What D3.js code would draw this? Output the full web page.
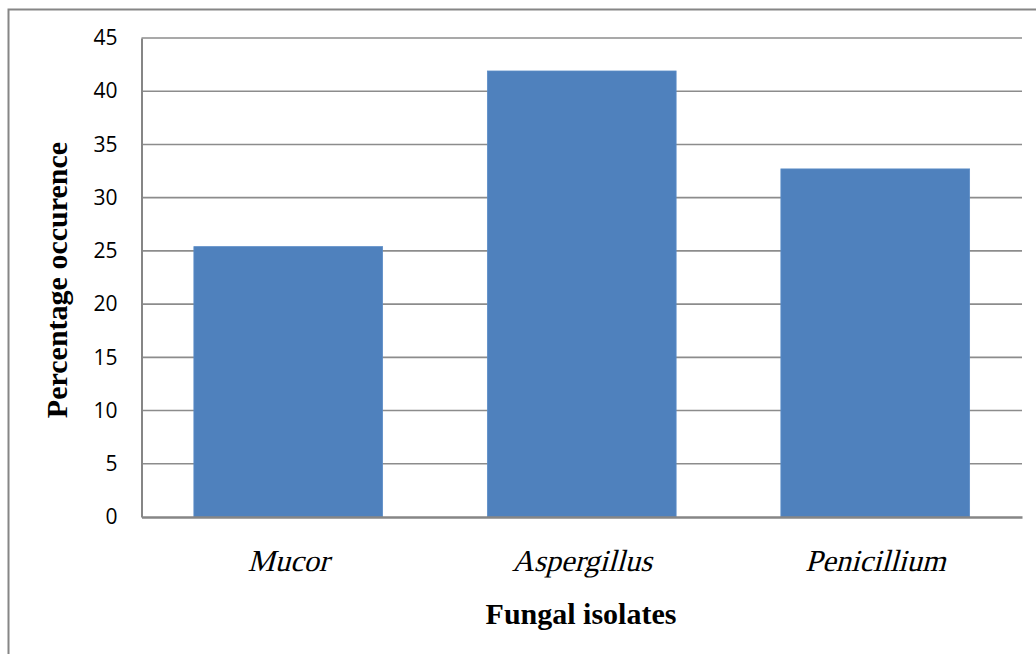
<!DOCTYPE html>
<html>
<head>
<meta charset="utf-8">
<script src="https://cdn.jsdelivr.net/npm/d3@7/dist/d3.min.js"></script>
<style>
  html, body { margin: 0; padding: 0; background: #fff; }
  svg { display: block; }
</style>
</head>
<body>
<svg id="chart" width="1036" height="654"></svg>
<script>
const categories = ["Mucor", "Aspergillus", "Penicillium"];
const values = [25.4, 41.9, 32.7];
const yTicks = [0, 5, 10, 15, 20, 25, 30, 35, 40, 45];
const xTitle = "Fungal isolates";
const yTitle = "Percentage occurence";

const svg = d3.select("#chart");
const W = 1036, H = 654;
const plot = { left: 141.5, right: 1022, top: 38, bottom: 517 };

// outer frame
svg.append("rect")
  .attr("x", 8.5).attr("y", 9.5)
  .attr("width", W + 20).attr("height", H + 20)
  .attr("fill", "none").attr("stroke", "#868686").attr("stroke-width", 2);

const x = d3.scaleBand()
  .domain(categories)
  .range([plot.left, plot.right])
  .paddingInner(0.357)
  .paddingOuter(0.1785);

const y = d3.scaleLinear()
  .domain([0, 45])
  .range([plot.bottom, plot.top]);

// gridlines
svg.append("g")
  .selectAll("line")
  .data(yTicks.filter(d => d > 0))
  .join("line")
  .attr("x1", plot.left).attr("x2", plot.right)
  .attr("y1", d => y(d)).attr("y2", d => y(d))
  .attr("stroke", "#8c8c8c").attr("stroke-width", 1.6);

// bars
svg.append("g")
  .selectAll("rect")
  .data(categories.map((c, i) => ({ c, v: values[i] })))
  .join("rect")
  .attr("x", d => x(d.c))
  .attr("y", d => y(d.v))
  .attr("width", x.bandwidth())
  .attr("height", d => y(0) - y(d.v))
  .attr("fill", "#4f81bd")
  .attr("stroke", "#5b8cc6")
  .attr("stroke-width", 0.8);

// y axis
const yAxis = d3.axisLeft(y).tickValues(yTicks).tickSize(0).tickPadding(24);
const gy = svg.append("g").attr("transform", `translate(${plot.left},0)`).call(yAxis);
gy.select(".domain").attr("stroke", "#868686").attr("stroke-width", 2);
gy.selectAll("text")
  .attr("font-family", "'Open Sans', 'Liberation Sans', sans-serif")
  .attr("font-size", 21)
  .attr("fill", "#000")
  .attr("dy", "0.32em");

// x axis (baseline)
const xAxis = d3.axisBottom(x).tickSize(0).tickPadding(0);
const gx = svg.append("g").attr("transform", `translate(0,${plot.bottom})`).call(xAxis);
gx.select(".domain").attr("stroke", "#868686").attr("stroke-width", 2.4);
gx.selectAll("text")
  .attr("font-family", "'Liberation Serif', 'Times New Roman', serif")
  .attr("font-size", 30.5)
  .attr("fill", "#000")
  .attr("y", 0)
  .attr("dy", "0")
  .attr("transform", "translate(0,54) skewX(-15)");

// titles
svg.append("text")
  .attr("x", 581).attr("y", 624)
  .attr("text-anchor", "middle")
  .attr("font-family", "'Liberation Serif', 'Times New Roman', serif")
  .attr("font-weight", "bold")
  .attr("font-size", 30)
  .attr("fill", "#000")
  .text(xTitle);

svg.append("text")
  .attr("transform", "translate(67,280) rotate(-90)")
  .attr("text-anchor", "middle")
  .attr("font-family", "'Liberation Serif', 'Times New Roman', serif")
  .attr("font-weight", "bold")
  .attr("font-size", 30)
  .attr("fill", "#000")
  .text(yTitle);
</script>
</body>
</html>
